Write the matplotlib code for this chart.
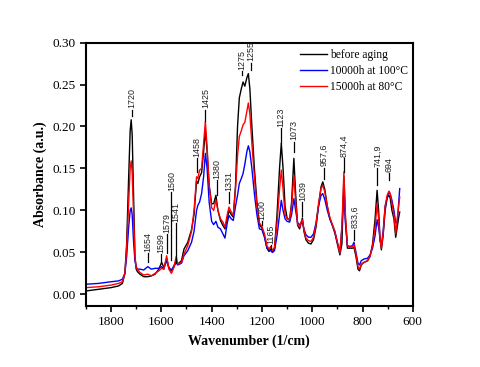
import numpy as np
import matplotlib
matplotlib.use("Agg")
import matplotlib.pyplot as plt

# wavenumber grid (1/cm) and absorbance
wn = [1900, 1850, 1800, 1770, 1755, 1745, 1738, 1730, 1724, 1720, 1716, 1710,
      1705, 1700, 1695, 1685, 1670, 1654, 1640, 1625, 1610, 1599, 1590, 1579,
      1570, 1560, 1550, 1541, 1535, 1520, 1510, 1495, 1480, 1470, 1460, 1455,
      1448, 1440, 1432, 1425, 1418, 1410, 1400, 1392, 1383, 1375, 1365, 1355,
      1347, 1338, 1331, 1322, 1314, 1305, 1297, 1290, 1282, 1275, 1268, 1260,
      1254, 1248, 1240, 1230, 1220, 1210, 1200, 1190, 1180, 1172, 1165, 1158,
      1150, 1140, 1130, 1123, 1116, 1108, 1100, 1090, 1082, 1073, 1066, 1058,
      1050, 1044, 1039, 1033, 1025, 1015, 1005, 995, 985, 975, 965, 958,
      950, 940, 930, 920, 910, 900, 890, 882, 874, 868, 860, 850,
      840, 834, 826, 818, 812, 805, 795, 780, 770, 760, 750, 742,
      736, 730, 725, 718, 710, 702, 695, 690, 683, 675, 668, 662,
      656, 652]

before_aging = [0.004, 0.006, 0.008, 0.010, 0.013, 0.025, 0.060, 0.140, 0.195, 0.208, 0.190, 0.110,
                0.045, 0.030, 0.027, 0.024, 0.021, 0.021, 0.022, 0.024, 0.030, 0.038, 0.032, 0.040,
                0.032, 0.028, 0.034, 0.040, 0.036, 0.040, 0.054, 0.062, 0.077, 0.095, 0.135, 0.132,
                0.140, 0.145, 0.170, 0.196, 0.170, 0.130, 0.108, 0.108, 0.118, 0.100, 0.088, 0.082,
                0.078, 0.090, 0.100, 0.095, 0.092, 0.130, 0.200, 0.234, 0.245, 0.253, 0.248, 0.258,
                0.263, 0.245, 0.200, 0.150, 0.110, 0.083, 0.079, 0.070, 0.055, 0.051, 0.054, 0.050,
                0.055, 0.095, 0.150, 0.180, 0.150, 0.105, 0.091, 0.088, 0.110, 0.162, 0.120, 0.082,
                0.078, 0.085, 0.091, 0.075, 0.065, 0.061, 0.060, 0.065, 0.080, 0.105, 0.128, 0.134,
                0.125, 0.105, 0.090, 0.082, 0.073, 0.060, 0.047, 0.060, 0.140, 0.090, 0.055, 0.055,
                0.055, 0.056, 0.045, 0.030, 0.028, 0.035, 0.038, 0.040, 0.045, 0.060, 0.090, 0.124,
                0.100, 0.065, 0.053, 0.070, 0.100, 0.115, 0.118, 0.115, 0.100, 0.090, 0.068, 0.080,
                0.092, 0.098]

aged_100C = [0.012, 0.013, 0.015, 0.016, 0.018, 0.025, 0.045, 0.080, 0.100, 0.103, 0.095, 0.060,
             0.040, 0.033, 0.030, 0.030, 0.029, 0.033, 0.030, 0.031, 0.031, 0.033, 0.030, 0.043,
             0.031, 0.029, 0.033, 0.038, 0.035, 0.037, 0.046, 0.052, 0.062, 0.075, 0.100, 0.106,
             0.110, 0.120, 0.140, 0.168, 0.150, 0.110, 0.087, 0.083, 0.087, 0.080, 0.078, 0.072,
             0.067, 0.085, 0.094, 0.090, 0.088, 0.105, 0.118, 0.132, 0.138, 0.144, 0.155, 0.170,
             0.177, 0.170, 0.150, 0.120, 0.095, 0.078, 0.077, 0.068, 0.055, 0.053, 0.052, 0.050,
             0.052, 0.070, 0.095, 0.112, 0.100, 0.090, 0.087, 0.086, 0.095, 0.114, 0.100, 0.085,
             0.083, 0.085, 0.086, 0.078, 0.071, 0.068, 0.068, 0.072, 0.085, 0.105, 0.118, 0.120,
             0.113, 0.100, 0.090, 0.083, 0.075, 0.062, 0.050, 0.080, 0.124, 0.085, 0.058, 0.057,
             0.058, 0.062, 0.050, 0.037, 0.035, 0.040, 0.042, 0.043, 0.047, 0.055, 0.070, 0.089,
             0.080, 0.065, 0.058, 0.075, 0.105, 0.115, 0.122, 0.120, 0.112, 0.100, 0.085, 0.085,
             0.110, 0.126]

aged_80C = [0.008, 0.009, 0.011, 0.013, 0.015, 0.025, 0.055, 0.110, 0.150, 0.159, 0.145, 0.090,
            0.045, 0.031, 0.030, 0.026, 0.023, 0.024, 0.022, 0.025, 0.028, 0.031, 0.030, 0.046,
            0.030, 0.025, 0.032, 0.045, 0.036, 0.038, 0.048, 0.058, 0.075, 0.100, 0.140, 0.138,
            0.148, 0.150, 0.180, 0.206, 0.175, 0.130, 0.103, 0.100, 0.112, 0.100, 0.090, 0.086,
            0.080, 0.095, 0.104, 0.098, 0.094, 0.125, 0.165, 0.188, 0.195, 0.202, 0.205, 0.218,
            0.228, 0.215, 0.180, 0.140, 0.105, 0.085, 0.081, 0.072, 0.058, 0.054, 0.057, 0.052,
            0.056, 0.085, 0.125, 0.148, 0.125, 0.095, 0.090, 0.089, 0.105, 0.142, 0.110, 0.083,
            0.080, 0.086, 0.089, 0.077, 0.067, 0.064, 0.063, 0.068, 0.083, 0.108, 0.126, 0.130,
            0.122, 0.105, 0.092, 0.083, 0.075, 0.062, 0.049, 0.080, 0.146, 0.095, 0.058, 0.056,
            0.057, 0.059, 0.048, 0.033, 0.030, 0.036, 0.038, 0.040, 0.046, 0.058, 0.080, 0.108,
            0.090, 0.065, 0.055, 0.072, 0.105, 0.118, 0.123, 0.120, 0.108, 0.095, 0.072, 0.090,
            0.105, 0.116]

# peak labels: text, x, line bottom, line top
peaks = [("1720", 1718, 0.212, 0.220), ("1654", 1654, 0.038, 0.049),
         ("1599", 1601, 0.039, 0.048), ("1579", 1577, 0.049, 0.072),
         ("1560", 1560, 0.041, 0.122), ("1541", 1541, 0.037, 0.085),
         ("1458", 1458, 0.146, 0.162), ("1425", 1425, 0.206, 0.220),
         ("1380", 1380, 0.118, 0.136), ("1331", 1331, 0.109, 0.122),
         ("1275", 1280, 0.261, 0.266), ("1255", 1244, 0.267, 0.276),
         ("1200", 1200, 0.083, 0.087), ("1165", 1165, 0.054, 0.059),
         ("1123", 1123, 0.180, 0.198), ("1073", 1073, 0.170, 0.182),
         ("1039", 1039, 0.093, 0.110), ("957,6", 955, 0.137, 0.151),
         ("874,4", 874, 0.146, 0.162), ("833,6", 832, 0.065, 0.077),
         ("741,9", 741, 0.130, 0.150), ("694", 694, 0.136, 0.144)]

plt.rcParams['font.family'] = ['Liberation Serif', 'DejaVu Serif']

fig = plt.figure(figsize=(4.8, 3.67), dpi=100)
ax = fig.add_axes([0.179, 0.166, 0.681, 0.718])

ax.plot(wn, before_aging, color='black', lw=1.0, label='before aging')
ax.plot(wn, aged_100C, color='blue', lw=1.0, label='10000h at 100°C')
ax.plot(wn, aged_80C, color='red', lw=1.0, label='15000h at 80°C')

for txt, x, y0, y1 in peaks:
    ax.plot([x, x], [y0, y1], color='black', lw=0.9)
    ax.text(x, y1 + 0.0015, txt, rotation=90, ha='center', va='bottom',
            fontsize=6.4, color='#222222', family=['Liberation Sans', 'DejaVu Sans'])

ax.set_xlim(1900, 600)
ax.set_ylim(-0.014, 0.30)
ax.set_xticks([1800, 1600, 1400, 1200, 1000, 800, 600])
ax.set_xticks(np.arange(1900, 599, -100), minor=True)
ax.set_yticks([0.00, 0.05, 0.10, 0.15, 0.20, 0.25, 0.30])
ax.yaxis.set_major_formatter(matplotlib.ticker.FormatStrFormatter('%.2f'))
ax.tick_params(which='major', direction='out', length=4, width=1.2, labelsize=9.5)
ax.tick_params(which='minor', direction='out', length=2.5, width=1.0)
for s in ax.spines.values():
    s.set_linewidth(1.5)

ax.set_xlabel('Wavenumber (1/cm)', fontsize=10, fontweight='bold')
ax.set_ylabel('Absorbance (a.u.)', fontsize=10, fontweight='bold')

ax.legend(loc='upper left', bbox_to_anchor=(0.655, 0.975), frameon=False,
          fontsize=8.3, borderpad=0, borderaxespad=0, handlelength=2.3,
          handletextpad=0.3, labelspacing=0.35)

plt.savefig('out.png', dpi=100)
plt.close()
